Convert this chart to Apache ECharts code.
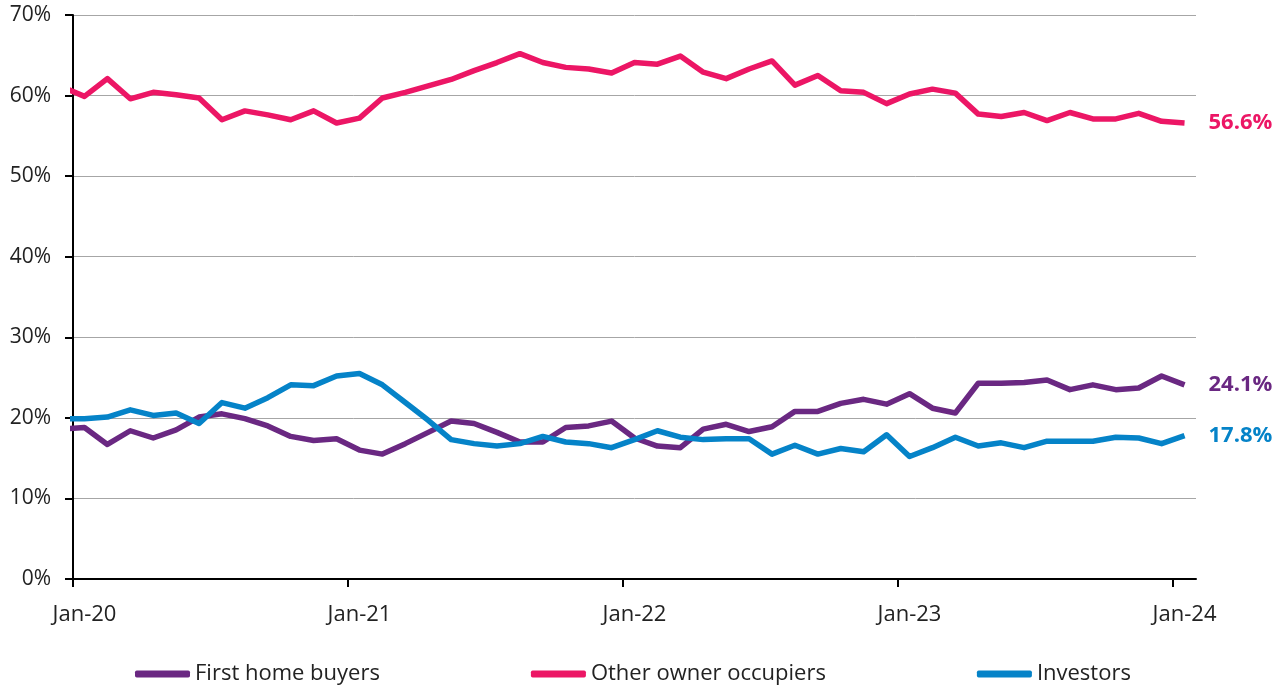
<!DOCTYPE html>
<html>
<head>
<meta charset="utf-8">
<script src="https://cdn.jsdelivr.net/npm/echarts@6/dist/echarts.min.js"></script>
<style>
  html, body { margin: 0; padding: 0; background: #fff; }
  #chart { width: 1276px; height: 689px; }
</style>
</head>
<body>
<div id="chart"></div>
<script>
// monthly shares (%), first value is Dec-19 (clipped at the axis), then Jan-20 .. Jan-24
const firstHomeBuyers = [
  18.6,
  18.8, 16.7, 18.4, 17.5, 18.5, 20.1, 20.5, 19.9, 19.0, 17.7, 17.2, 17.4,
  16.0, 15.5, 16.8, 18.2, 19.6, 19.3, 18.2, 17.0, 17.0, 18.8, 19.0, 19.6,
  17.5, 16.5, 16.3, 18.6, 19.2, 18.3, 18.9, 20.8, 20.8, 21.8, 22.3, 21.7,
  23.0, 21.2, 20.6, 24.3, 24.3, 24.4, 24.7, 23.5, 24.1, 23.5, 23.7, 25.2,
  24.1
];
const otherOwnerOccupiers = [
  61.1,
  59.9, 62.1, 59.6, 60.4, 60.1, 59.7, 57.0, 58.1, 57.6, 57.0, 58.1, 56.6,
  57.2, 59.7, 60.4, 61.2, 62.0, 63.1, 64.1, 65.2, 64.1, 63.5, 63.3, 62.8,
  64.1, 63.9, 64.9, 62.9, 62.1, 63.3, 64.3, 61.3, 62.5, 60.6, 60.4, 59.0,
  60.2, 60.8, 60.3, 57.7, 57.4, 57.9, 56.9, 57.9, 57.1, 57.1, 57.8, 56.8,
  56.6
];
const investors = [
  19.9,
  19.9, 20.1, 21.0, 20.3, 20.6, 19.3, 21.9, 21.2, 22.5, 24.1, 24.0, 25.2,
  25.5, 24.1, 21.9, 19.7, 17.3, 16.8, 16.5, 16.8, 17.7, 17.0, 16.8, 16.3,
  17.3, 18.4, 17.6, 17.3, 17.4, 17.4, 15.5, 16.6, 15.5, 16.2, 15.8, 17.9,
  15.2, 16.3, 17.6, 16.5, 16.9, 16.3, 17.1, 17.1, 17.1, 17.6, 17.5, 16.8,
  17.8
];
const yearLabels = ['Jan-20', 'Jan-21', 'Jan-22', 'Jan-23', 'Jan-24'];

const FONT = 'Open Sans';
const colors = ['#6a2882', '#ec1665', '#0583c8'];

// x is months since start of Jan-20; each value sits mid-month
const toPoints = (arr) => arr.map((v, i) => [i - 0.5, v]);

const chart = echarts.init(document.getElementById('chart'));

const lineSeries = (name, data, color) => ({
  name: name,
  type: 'line',
  data: toPoints(data),
  symbol: 'none',
  clip: true,
  lineStyle: { color: color, width: 5.5, join: 'round' },
  itemStyle: { color: color },
  endLabel: {
    show: true,
    distance: 24,
    formatter: (p) => p.value[1].toFixed(1) + '%',
    color: color,
    fontFamily: FONT,
    fontWeight: 'bold',
    fontSize: 22,
  },
});

const option = {
  animation: false,
  grid: { left: 73, right: 80, top: 15, bottom: 110 },
  legend: {
    top: 658,
    left: 130,
    icon: 'roundRect',
    itemWidth: 55,
    itemHeight: 7,
    itemGap: 151,
    textStyle: { fontFamily: FONT, fontSize: 22, color: '#222' },
    data: ['First home buyers', 'Other owner occupiers', 'Investors'],
  },
  xAxis: {
    type: 'value',
    min: 0,
    max: 49,
    axisLine: { lineStyle: { color: '#000', width: 2 } },
    axisTick: {
      show: true,
      length: 8,
      customValues: [0, 12, 24, 36, 48],
      lineStyle: { color: '#000', width: 2 },
    },
    axisLabel: {
      customValues: [0.5, 12.5, 24.5, 36.5, 48.5],
      formatter: (v) => yearLabels[Math.round((v - 0.5) / 12)],
      margin: 25,
      fontFamily: FONT,
      fontSize: 22,
      color: '#222',
    },
    splitLine: { show: false },
  },
  yAxis: {
    type: 'value',
    min: 0,
    max: 70,
    interval: 10,
    axisLine: { show: true, lineStyle: { color: '#000', width: 2 } },
    axisTick: { show: true, length: 8, lineStyle: { color: '#000', width: 2 } },
    axisLabel: {
      formatter: '{value}%',
      margin: 22,
      fontFamily: FONT,
      fontSize: 21,
      color: '#222',
    },
    splitLine: { lineStyle: { color: '#a6a6a6', width: 1 } },
  },
  series: [
    lineSeries('First home buyers', firstHomeBuyers, colors[0]),
    lineSeries('Other owner occupiers', otherOwnerOccupiers, colors[1]),
    lineSeries('Investors', investors, colors[2]),
  ],
};

chart.setOption(option);
window.onresize = () => chart.resize();
</script>
</body>
</html>
